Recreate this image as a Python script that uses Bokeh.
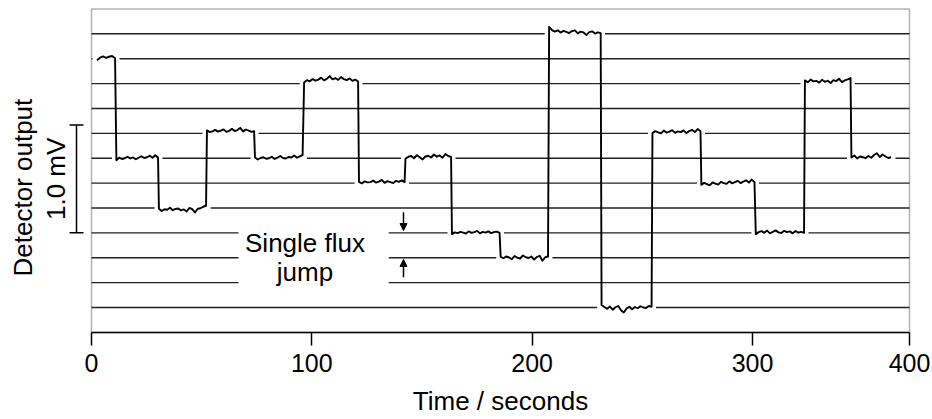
import math
import numpy as np
from bokeh.plotting import figure
from bokeh.models import LinearAxis, FixedTicker, Arrow, NormalHead, BoxAnnotation
from bokeh.core.properties import value
from bokeh.embed import file_html
from bokeh.resources import INLINE

FONT = "Liberation Sans"

# ---------------- data ----------------
# flux-quantum levels of each plateau of the trace (0 = lowest line)
plateau_level = [10, 6, 4, 7, 6, 9, 5, 6, 3, 2, 11, 0, 7, 5, 3, 9, 6]
# time (s) at which each plateau starts / ends
plateau_start = [2.5, 11.3, 30.6, 52.4, 74.2, 96.5, 121.4, 142.5, 163.6,
                 185.7, 207.7, 231.5, 254.6, 276.8, 301.5, 323.8, 344.9]
plateau_end = [10.7, 30.2, 52.0, 73.8, 95.8, 121.0, 142.1, 163.2, 185.2,
               207.2, 231.1, 254.2, 276.4, 300.9, 323.4, 344.5, 362.9]
# noise on each plateau, in hundredths of a flux quantum
plateau_noise = [
    [-6, 4, 9, 3, 8, 11, 2],
    [-8, 2, -3, 0, 6, -1, 3, -4, 2, 8, 1, 4, 10, 2, 12, 3],
    [-3, -12, -5, -7, 1, -9, -4, -2, -10, -6, -14, 0, -5, -18, -3, -1, 5, 9],
    [12, 5, 8, 14, 7, 11, 16, 6, 10, 18, 9, 13, 22, 8, 15, 11, 6, 9],
    [3, -5, 1, 4, -2, 0, 6, -3, 2, 9, 1, -1, 5, 3, 11, 2, 7, 12],
    [4, 14, 9, 18, 12, 16, 24, 13, 19, 30, 17, 22, 15, 26, 18, 14, 21, 11, 16, 8],
    [5, -1, 7, 3, 4, 10, 2, 6, 13, 1, 8, 4, 0, 9, 5, 11, 4],
    [-2, 6, 9, 0, 12, 4, -5, 7, 10, 3, 15, 6, 11, 2, 17, 9, 5],
    [-5, 2, -1, 4, 1, -3, 6, 0, 3, 8, -2, 4, 1, 6, -1, 3, 5, 0],
    [4, -2, 5, 1, -6, 7, 0, -3, 9, 2, -1, 5, -7, 3, 8, -12, 2, 5],
    [28, 15, 9, 14, 5, 12, 8, 3, 11, 14, 2, 9, 6, -5, 7, 10, 1, 6, 3],
    [10, 2, -5, 4, -9, 1, 6, -11, -20, -4, 3, -7, 2, -3, 5, 0, -2, 6, 3],
    [1, 9, 4, 0, 11, 3, 7, 13, 2, 8, 5, 12, 1, 9, 14, 5, 17, 8],
    [-7, 1, -4, -9, 3, -2, -6, 5, 0, -3, 7, -1, 4, 9, 0, 6, 11, 2, 14, 4],
    [-5, 3, 7, 0, 9, -2, 4, 10, 2, -1, 8, 3, 6, -2, 7, 1, 4, 0],
    [13, 5, 16, 9, 11, 4, 15, 7, 12, 2, 14, 10, 19, 6, 13, 17, 22],
    [3, 11, -1, 7, 4, 0, 9, 2, 13, 20, 5, 15, 7, 1, 4],
]
flux_step_mv = 1.0 / 4.34          # one flux quantum in mV
n_levels = 12                      # horizontal reference lines
scale_bar_mv = 1.0
x_tick_values = [0, 100, 200, 300]
x_tick_labels = ["0", "100", "200", "300", "400"]

# ---------------- layout ----------------
W, H = 932, 419
PX_PER_S = 2.2033
T_LEFT = -91.0 / PX_PER_S
T_RIGHT = T_LEFT + W / PX_PER_S
X_BOX_RIGHT = 371.26
PX_PER_LEVEL = 24.88
L_TOP = 307.0 / PX_PER_LEVEL
L_BOT = L_TOP - H / PX_PER_LEVEL
fs = flux_step_mv

p = figure(width=W, height=H, output_backend="svg", toolbar_location=None,
           x_range=(T_LEFT, T_RIGHT), y_range=(L_BOT * fs, L_TOP * fs),
           x_axis_location=None, y_axis_location=None, min_border=0,
           outline_line_color=None, background_fill_color="white",
           border_fill_color="white")
p.xgrid.visible = False
p.ygrid.visible = False

# level lines with gaps around plateaus and the annotation text
gap_pad = 2.0
text_gap = (66.7, 134.9)
text_gap_levels = [1, 2, 3]
x0s, x1s, ys = [], [], []
for L in range(n_levels):
    gaps = [(s - gap_pad, e + gap_pad) for s, e, l in
            zip(plateau_start, plateau_end, plateau_level) if l == L]
    if L in text_gap_levels:
        gaps.append(text_gap)
    gaps.sort()
    cur = 0.0
    for g0, g1 in gaps:
        if g0 > cur:
            x0s.append(cur); x1s.append(g0); ys.append(L * fs)
        cur = max(cur, g1)
    if cur < X_BOX_RIGHT:
        x0s.append(cur); x1s.append(X_BOX_RIGHT); ys.append(L * fs)
p.segment(x0=x0s, y0=ys, x1=x1s, y1=ys, line_color="#222222", line_width=1.4)

# the trace
tt, vv = [], []
for s, e, l, nz in zip(plateau_start, plateau_end, plateau_level, plateau_noise):
    ts = np.linspace(s, e, len(nz))
    tt.extend(ts.tolist())
    vv.extend([(l + n / 100.0) * fs for n in nz])
p.line(tt, vv, line_color="black", line_width=1.9, line_join="round")

# frame box
p.add_layout(BoxAnnotation(left=0, right=X_BOX_RIGHT, bottom=-1 * fs, top=12 * fs,
                           fill_alpha=0, line_color="black", line_width=1.5,
                           level="underlay"))

# x axis
ticks = x_tick_values + [X_BOX_RIGHT]
xa = LinearAxis(fixed_location=-1 * fs, bounds=(0, X_BOX_RIGHT),
                ticker=FixedTicker(ticks=ticks),
                major_label_overrides={t: lab for t, lab in zip(ticks, x_tick_labels)},
                axis_label="Time / seconds")
xa.axis_line_width = 1.5
xa.major_tick_line_width = 1.5
xa.major_tick_out = 13
xa.major_tick_in = 0
xa.minor_tick_line_color = None
xa.major_label_standoff = 9
xa.major_label_text_font = FONT
xa.major_label_text_font_size = "25px"
xa.major_label_text_color = "black"
xa.axis_label_standoff = 10
xa.axis_label_text_font = FONT
xa.axis_label_text_font_size = "26px"
xa.axis_label_text_font_style = "normal"
xa.axis_label_text_color = "black"
p.add_layout(xa, "below")

# scale bar (1.0 mV)
bar_x = -6.8
cap_half = 3.18
bar_y0 = 3 * fs
bar_y1 = bar_y0 + scale_bar_mv
p.segment(x0=[bar_x, bar_x - cap_half, bar_x - cap_half],
          y0=[bar_y0, bar_y0, bar_y1],
          x1=[bar_x, bar_x + cap_half, bar_x + cap_half],
          y1=[bar_y1, bar_y0, bar_y1], line_color="black", line_width=1.5)

# texts
p.text(x=[-30.9, -15.9], y=[4.82 * fs, bar_y0 + scale_bar_mv / 2],
       text=["Detector output", "1.0 mV"], angle=math.pi / 2,
       text_font=value(FONT), text_font_size="26px", text_color="black",
       text_align="center", text_baseline="alphabetic")
p.text(x=[96.9, 96.9], y=[2.58 * fs, 1.44 * fs], text=["Single flux", "jump"],
       text_font=value(FONT), text_font_size="26px", text_color="black",
       text_align="center", text_baseline="alphabetic")

# single flux jump arrows
arrow_x = 141.6
p.add_layout(Arrow(end=NormalHead(size=7, fill_color="black", line_color="black"),
                   x_start=arrow_x, y_start=3.83 * fs, x_end=arrow_x, y_end=3.09 * fs,
                   line_width=1.5, line_color="black"))
p.add_layout(Arrow(end=NormalHead(size=7, fill_color="black", line_color="black"),
                   x_start=arrow_x, y_start=1.22 * fs, x_end=arrow_x, y_end=1.93 * fs,
                   line_width=1.5, line_color="black"))

open("out.html", "w").write(file_html(p, INLINE))
